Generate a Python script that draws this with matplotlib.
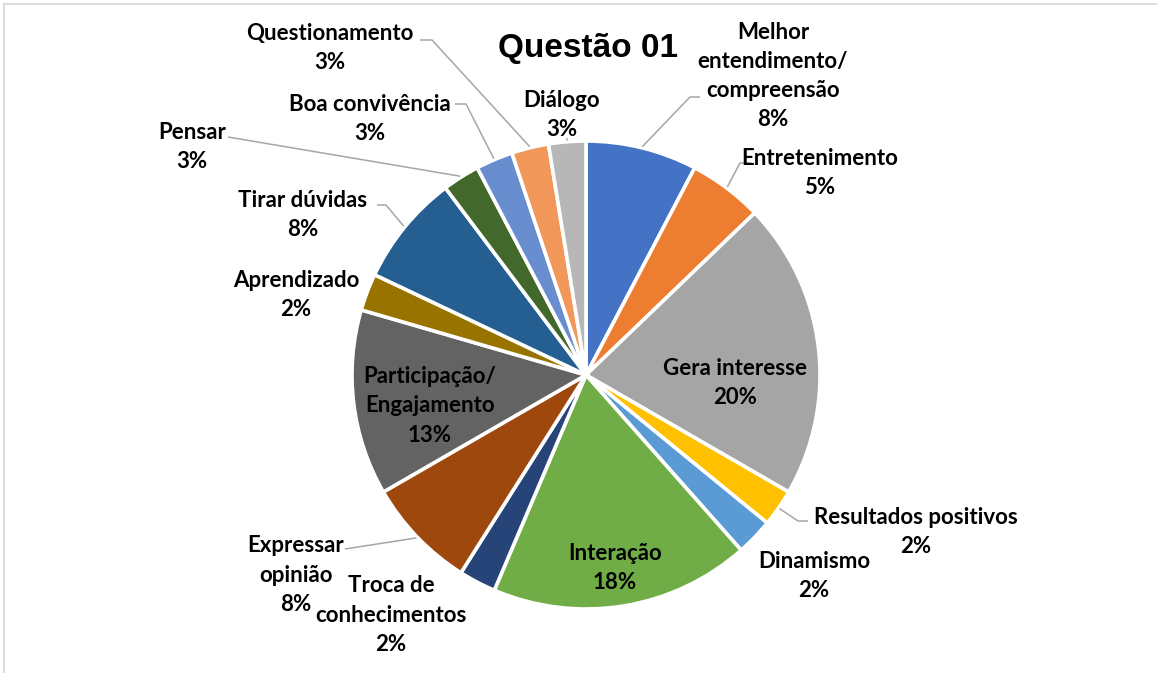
import matplotlib
matplotlib.use("Agg")
import matplotlib.pyplot as plt
from matplotlib.patches import Rectangle
import numpy as np

# ---------------- data ----------------
categories = ["Melhor\nentendimento/\ncompreensão", "Entretenimento", "Gera interesse",
              "Resultados positivos", "Dinamismo", "Interação",
              "Troca de\nconhecimentos", "Expressar\nopinião",
              "Participação/\nEngajamento", "Aprendizado", "Tirar dúvidas",
              "Pensar", "Boa convivência", "Questionamento", "Diálogo"]
values = [3, 2, 8, 1, 1, 7, 1, 3, 5, 1, 3, 1, 1, 1, 1]
pct_labels = ["8%", "5%", "20%", "2%", "2%", "18%", "2%", "8%", "13%", "2%",
              "8%", "3%", "3%", "3%", "3%"]
colors = ["#4472C4", "#ED7D31", "#A5A5A5", "#FFC000", "#5B9BD5", "#70AD47",
          "#264478", "#9E480E", "#636363", "#997300", "#255E91", "#43682B",
          "#698ED0", "#F1975A", "#B7B7B7"]
title = "Questão 01"

# ---------------- layout (pixels) ----------------
W, H = 1157, 673
CX, CY, R = 586, 375, 234
LINE_STEP = 29.3

label_pos = [(773, 74), (820, 171), (735, 381), (916, 530), (814, 574),
             (615, 566), (391, 613), (296, 573), (430, 404), (296, 293),
             (303, 213), (192, 145), (370, 117), (330, 46), (562, 113)]
leader_pts = [[(690, 97), (700, 97)],
              [(740, 163), (750, 163)],
              None,
              [(798, 521), (808, 521)],
              None,
              None,
              None,
              [(345, 549)],
              None,
              None,
              [(386, 205), (377, 205)],
              [(228, 137)],
              [(466, 104), (455, 104)],
              [(432, 40), (420, 40)],
              [(567, 138)]]

LABEL_FONT = ["Lato", "DejaVu Sans"]
FS = 16

fig = plt.figure(figsize=(W / 100, H / 100), dpi=100)
fig.patch.set_facecolor("white")

# frame
fig.patches.append(Rectangle((4 / W, -0.05), 1.2, (H - 4) / H + 0.05,
                             transform=fig.transFigure, fill=False,
                             edgecolor="#D9D9D9", linewidth=1.3))

ax = fig.add_axes([(CX - R) / W, (H - CY - R) / H, 2 * R / W, 2 * R / H])
wedges, _ = ax.pie(values, colors=colors, startangle=90, counterclock=False,
                   radius=1,
                   wedgeprops=dict(edgecolor="white", linewidth=2.6))
ax.set_xlim(-1, 1)
ax.set_ylim(-1, 1)
ax.set_aspect("equal")
ax.axis("off")


def p2d(px, py):
    return ((px - CX) / R, (CY - py) / R)


for w, cat, pct, pos, lead in zip(wedges, categories, pct_labels, label_pos, leader_pts):
    lines = (cat + "\n" + pct).split("\n")
    n = len(lines)
    for i, ln in enumerate(lines):
        py = pos[1] + (i - (n - 1) / 2) * LINE_STEP
        x, y = p2d(pos[0], py)
        ax.text(x, y, ln, ha="center", va="center_baseline",
                fontsize=FS, fontweight="bold",
                family=LABEL_FONT, color="black", clip_on=False)
    if lead is not None:
        th = np.deg2rad((w.theta1 + w.theta2) / 2)
        xs = [1.005 * np.cos(th)]
        ys = [1.005 * np.sin(th)]
        for p in lead:
            dx, dy = p2d(*p)
            xs.append(dx)
            ys.append(dy)
        ax.plot(xs, ys, color="#A6A6A6", linewidth=1.1, clip_on=False,
                solid_capstyle="butt")

fig.text(588 / W, 1 - 48 / H, title, ha="center", va="center",
         fontsize=24, fontweight="bold", family=["Liberation Sans", "DejaVu Sans"])

fig.savefig("out.png", dpi=100, facecolor="white")
